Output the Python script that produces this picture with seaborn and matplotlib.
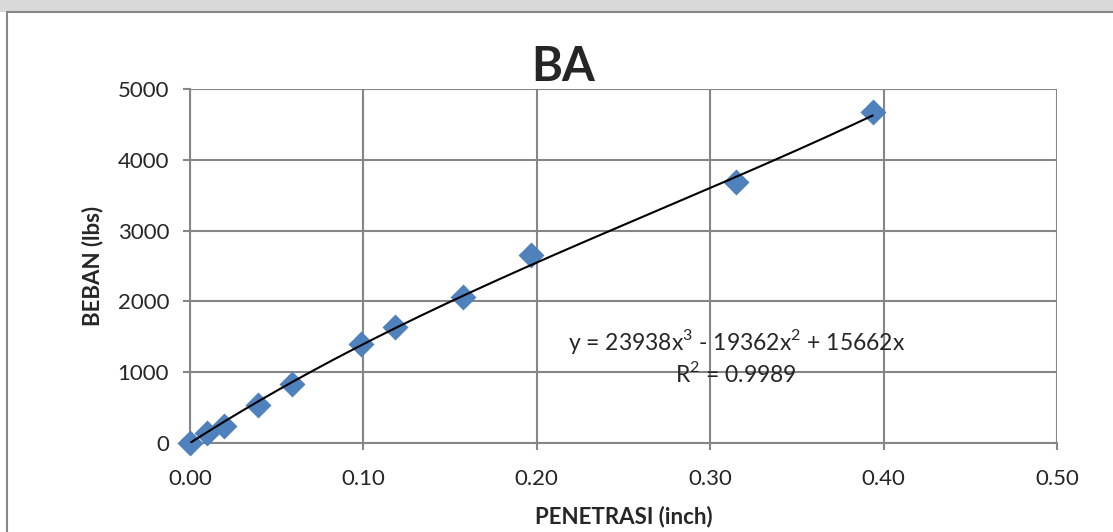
import numpy as np
import pandas as pd
import matplotlib.pyplot as plt
import seaborn as sns
from matplotlib.patches import Rectangle
from matplotlib.lines import Line2D

# Data (penetration in inch vs load in lbs)
penetrasi = [0.0, 0.0098, 0.0197, 0.0394, 0.0591, 0.0984, 0.1181, 0.1575, 0.1969, 0.3150, 0.3937]
beban = [0, 145, 240, 535, 830, 1400, 1645, 2060, 2660, 3690, 4670]

# Excel polynomial trendline (order 3, intercept 0)
coef = [23938, -19362, 15662, 0]
eq_text = "y = 23938x$^3$ - 19362x$^2$ + 15662x"
r2_text = "R$^2$ = 0.9989"

x_ticks = [0.0, 0.1, 0.2, 0.3, 0.4, 0.5]
y_ticks = [0, 1000, 2000, 3000, 4000, 5000]

sns.set_style("white")
plt.rcParams['font.family'] = ['Lato', 'DejaVu Sans']
plt.rcParams['mathtext.fontset'] = 'custom'
plt.rcParams['mathtext.rm'] = 'Lato'

W, H = 1113, 532
fig = plt.figure(figsize=(W / 100, H / 100), dpi=100)
fig.patch.set_facecolor("white")

# watermark strip + chart area border
fig.patches.append(Rectangle((0, 1 - 12 / H), 1, 12 / H, transform=fig.transFigure,
                             facecolor="#d9d9d9", edgecolor="none", zorder=0))
fig.lines.append(Line2D([7 / W, 1], [1 - 12 / H, 1 - 12 / H], transform=fig.transFigure,
                        color="#868686", lw=1.5))
fig.lines.append(Line2D([7 / W, 7 / W], [0, 1 - 12 / H], transform=fig.transFigure,
                        color="#868686", lw=1.5))

ax = fig.add_axes([190 / W, 89 / H, (1057 - 190) / W, (443 - 89) / H])
ax.set_facecolor("none")

df = pd.DataFrame({"x": penetrasi, "y": beban})
xs = np.linspace(0, max(penetrasi), 200)
fit = pd.DataFrame({"x": xs, "y": np.polyval(coef, xs)})

sns.scatterplot(data=df, x="x", y="y", marker="D", s=175, color="#4f81bd",
                edgecolor="#4f81bd", linewidth=0, ax=ax, zorder=3, clip_on=False)
sns.lineplot(data=fit, x="x", y="y", color="black", lw=1.5, ax=ax, zorder=4)

ax.set_xlim(0, 0.5)
ax.set_ylim(0, 5000)
ax.set_xticks(x_ticks)
ax.set_yticks(y_ticks)
ax.set_xticklabels([f"{v:.2f}" for v in x_ticks])
ax.set_yticklabels([str(v) for v in y_ticks])
ax.grid(True, color="#868686", lw=1.5)
ax.set_axisbelow(True)
for side in ["top", "right"]:
    ax.spines[side].set_visible(False)
for side in ["left", "bottom"]:
    ax.spines[side].set_color("#868686")
    ax.spines[side].set_linewidth(1.5)
ax.tick_params(axis="both", which="both", length=5, width=1.5, color="#868686",
               labelsize=16, pad=10, bottom=True, left=True)
ax.tick_params(axis="x", pad=14)

fig.text(563 / W, 1 - 67 / H, "BA", fontsize=34, fontweight="bold", ha="center", va="center")
ax.set_xlabel("PENETRASI (inch)", fontsize=16, fontweight="bold", labelpad=12)
ax.set_ylabel("BEBAN (lbs)", fontsize=16, fontweight="bold", labelpad=10)

ax.text(0.315, 1440, eq_text, fontsize=16.5, ha="center", va="center", zorder=5)
ax.text(0.315, 975, r2_text, fontsize=16.5, ha="center", va="center", zorder=5)

fig.savefig("out.png", dpi=100)
